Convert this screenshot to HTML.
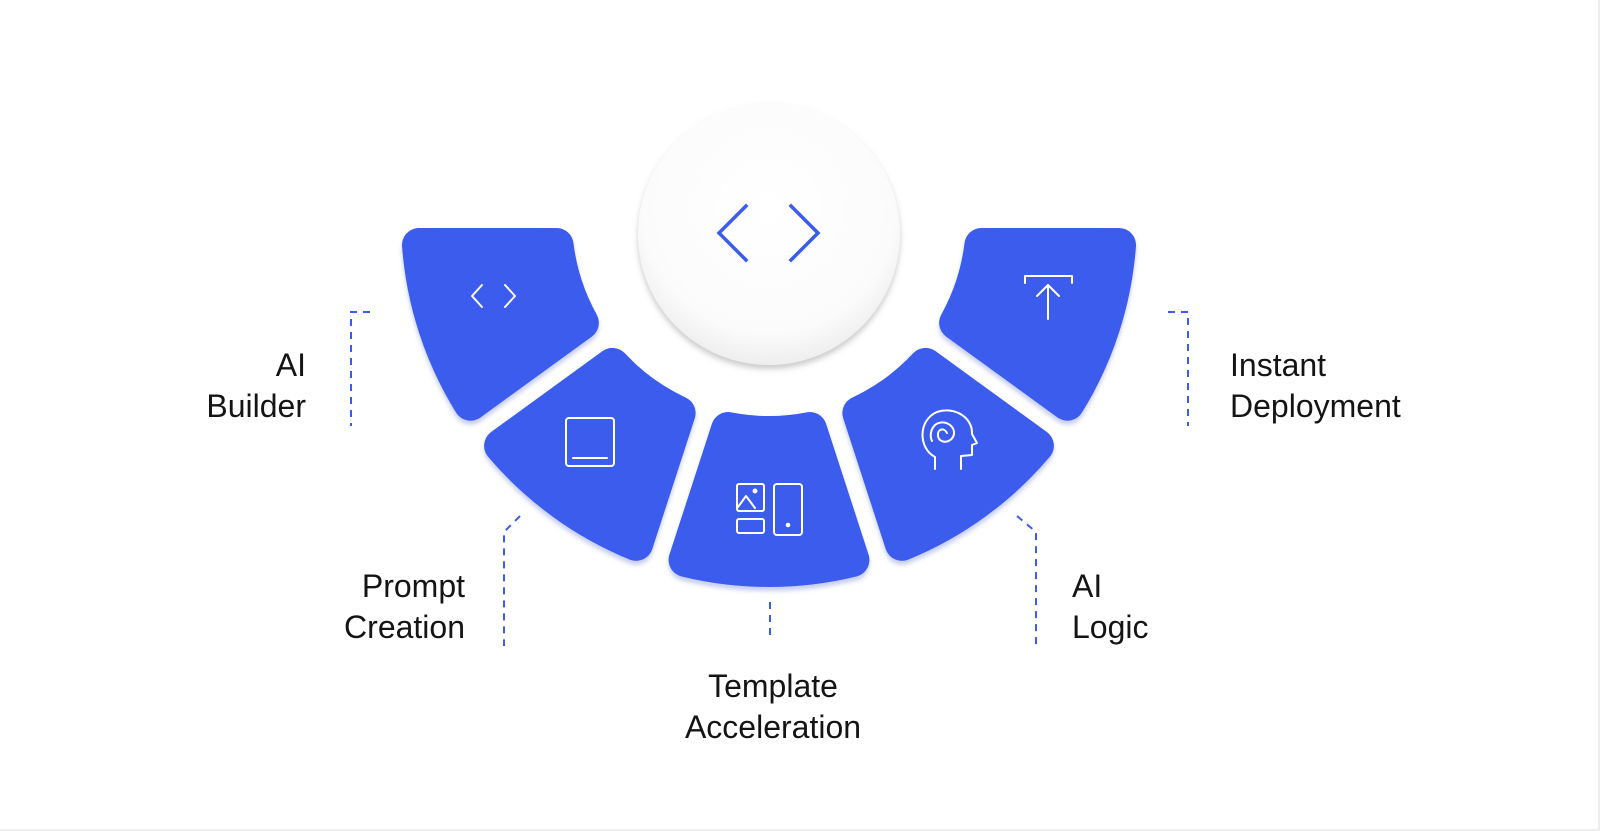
<!DOCTYPE html>
<html><head><meta charset="utf-8">
<style>
html,body{margin:0;padding:0;background:#fff;}
#wrap{position:relative;width:1600px;height:831px;overflow:hidden;background:#fff;box-sizing:border-box;border-right:2px solid #eee;border-bottom:2px solid #eee;}
.lbl{position:absolute;font-family:"Liberation Sans",Arial,sans-serif;font-size:32px;line-height:41px;color:#141414;white-space:nowrap;}
svg{position:absolute;left:0;top:0;}
</style></head><body>
<div id="wrap">
<svg id="s" width="1600" height="831" viewBox="0 0 1600 831">
<defs>
<filter id="sh" x="-20%" y="-20%" width="140%" height="140%"><feDropShadow dx="0" dy="4" stdDeviation="2" flood-color="#b8c2ea" flood-opacity="0.8"/></filter>
<filter id="csh" x="-20%" y="-20%" width="140%" height="140%"><feDropShadow dx="0" dy="4" stdDeviation="3" flood-color="#999" flood-opacity="0.5"/></filter>
<radialGradient id="cg" cx="50%" cy="40%" r="60%"><stop offset="0" stop-color="#ffffff"/><stop offset="0.8" stop-color="#fbfbfb"/><stop offset="1" stop-color="#eeeeee"/></radialGradient>
</defs>
<g id="tiles" filter="url(#sh)"></g>
<circle cx="769" cy="234" r="131" fill="url(#cg)" filter="url(#csh)"/>
<g fill="none" stroke="#3b5bea" stroke-width="3.5" stroke-linecap="square">
<polyline points="746,206 719,233 746,260"/>
<polyline points="791,206 818,233 791,260"/>
</g>
<g fill="none" stroke="#fff" stroke-width="2" stroke-linecap="round" stroke-linejoin="round">
<polyline points="482,285 472,296 482,307"/>
<polyline points="505,285 515,296 505,307"/>
<rect x="566" y="418" width="48" height="48" rx="3"/>
<line x1="573" y1="458" x2="607" y2="458"/>
<rect x="737" y="484" width="27" height="27" rx="2"/>
<path d="M738,507 L746,496 L755,508"/>
<circle cx="755" cy="491" r="1.5" fill="#fff"/>
<rect x="737" y="519" width="27" height="14" rx="2"/>
<rect x="774" y="484" width="28" height="51" rx="3"/>
<circle cx="788" cy="525" r="1.3" fill="#fff"/>
<path d="M935,469 L935,457 C918,448 918,420 937,412 C955,406 973,418 972,434 L977,443 L972,445 L972,455 L961,456 L961,469"/>
<path d="M947,433 C944,427 937,429 938,436 C939,444 952,444 954,434 C955,424 942,419 935,425 C930,430 930,437 932,441"/>
<path d="M1025,283 L1025,276 L1072,276 L1072,283"/>
<line x1="1048" y1="285" x2="1048" y2="319"/>
<polyline points="1037,296 1048,285 1059,296"/>
</g>
<g fill="none" stroke="#3b5bea" stroke-width="2" stroke-dasharray="7,6">
<polyline points="370,312 351,312 351,426"/>
<polyline points="520,516 504,532 504,646"/>
<line x1="770" y1="602" x2="770" y2="640"/>
<polyline points="1017,516 1036,532 1036,646"/>
<polyline points="1168,312 1188,312 1188,426"/>
</g>
</svg>
<div class="lbl" style="right:1292px;top:345px;text-align:right">AI<br>Builder</div>
<div class="lbl" style="right:1133px;top:566px;text-align:right">Prompt<br>Creation</div>
<div class="lbl" style="left:623px;width:300px;top:666px;text-align:center">Template<br>Acceleration</div>
<div class="lbl" style="left:1072px;top:566px">AI<br>Logic</div>
<div class="lbl" style="left:1230px;top:345px">Instant<br>Deployment</div>
</div>
<script>
(function(){
var cx=769,cy=219,R=351,r=214,d=26,sw=34,g=document.getElementById('tiles'),ns='http://www.w3.org/2000/svg';
function pt(a,rad,side){var t=a*Math.PI/180,ux=Math.cos(t),uy=Math.sin(t);var nx,ny;
 if(side>0){nx=-uy;ny=ux;}else{nx=uy;ny=-ux;}
 var tt=Math.sqrt(rad*rad-d*d);return [cx+tt*ux+d*nx,cy+tt*uy+d*ny];}
for(var i=0;i<5;i++){var a1=i*36,a2=a1+36;
 var p1=pt(a1,r,1),p2=pt(a1,R,1),p3=pt(a2,R,-1),p4=pt(a2,r,-1);
 var dd='M'+p1+' L'+p2+' A'+R+','+R+' 0 0 1 '+p3+' L'+p4+' A'+r+','+r+' 0 0 0 '+p1+' Z';
 var p=document.createElementNS(ns,'path');p.setAttribute('d',dd);p.setAttribute('fill','#3a5bec');
 p.setAttribute('stroke','#3a5bec');p.setAttribute('stroke-width',sw);p.setAttribute('stroke-linejoin','round');g.appendChild(p);}
})();
</script>
</body></html>
